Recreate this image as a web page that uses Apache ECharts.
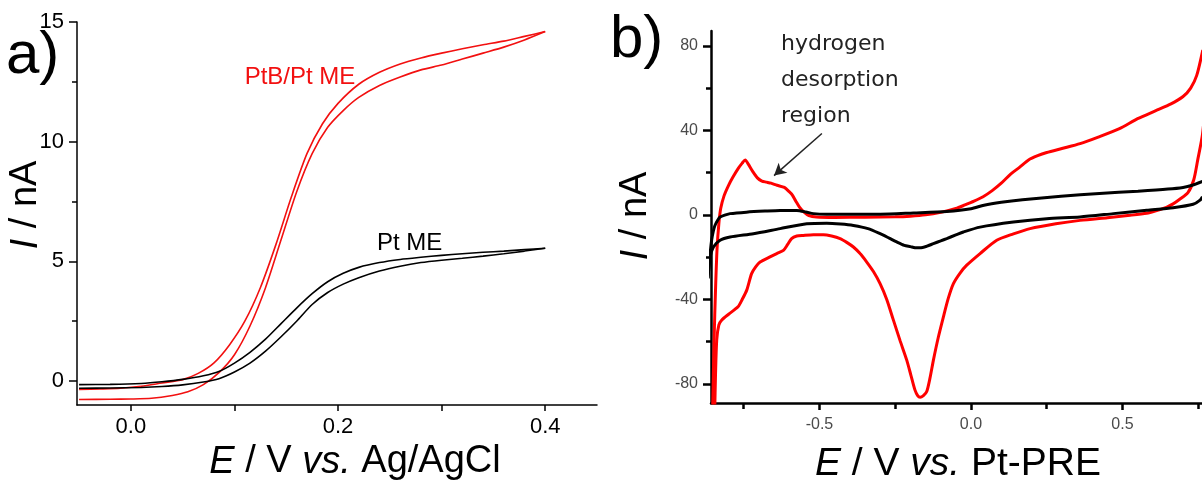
<!DOCTYPE html>
<html>
<head>
<meta charset="utf-8">
<script src="https://cdn.jsdelivr.net/npm/echarts@6/dist/echarts.min.js"></script>
<style>
html,body{margin:0;padding:0;background:#fff;}
#c{width:1202px;height:484px;}
</style>
</head>
<body>
<div id="c"></div>
<script>
// ---------- Panel a data: E (V vs Ag/AgCl), I (nA) ----------
const ptbUpper = [[-0.05,-0.35],[-0.03,-0.33],[-0.01,-0.3],[0.01,-0.22],[0.03,-0.08],[0.05,0.06],[0.065,0.32],[0.08,0.75],[0.095,1.5],[0.11,2.5],[0.125,3.9],[0.14,5.7],[0.155,7.7],[0.17,9.5],[0.185,10.75],[0.2,11.6],[0.22,12.4],[0.24,12.9],[0.26,13.25],[0.28,13.5],[0.3,13.7],[0.32,13.88],[0.34,14.05],[0.36,14.2],[0.38,14.4],[0.4,14.6]];
const ptbLower = [[-0.05,-0.77],[-0.02,-0.76],[0.0,-0.75],[0.02,-0.72],[0.04,-0.6],[0.055,-0.45],[0.07,-0.15],[0.085,0.35],[0.1,1.1],[0.115,2.3],[0.13,3.9],[0.145,5.9],[0.16,7.9],[0.175,9.5],[0.19,10.6],[0.205,11.3],[0.22,11.85],[0.24,12.35],[0.26,12.7],[0.28,13.0],[0.3,13.2],[0.32,13.45],[0.34,13.7],[0.36,13.95],[0.38,14.25],[0.4,14.6]];
const ptUpper = [[-0.05,-0.15],[-0.02,-0.14],[0.01,-0.1],[0.03,-0.03],[0.05,0.07],[0.07,0.22],[0.085,0.4],[0.1,0.75],[0.115,1.2],[0.13,1.75],[0.145,2.4],[0.16,3.05],[0.175,3.65],[0.19,4.15],[0.205,4.5],[0.22,4.75],[0.24,4.95],[0.26,5.08],[0.28,5.17],[0.3,5.25],[0.32,5.32],[0.34,5.38],[0.36,5.43],[0.38,5.49],[0.4,5.55]];
const ptLower = [[-0.05,-0.3],[-0.02,-0.29],[0.01,-0.27],[0.03,-0.23],[0.05,-0.16],[0.07,-0.04],[0.085,0.1],[0.1,0.38],[0.115,0.75],[0.13,1.25],[0.145,1.85],[0.16,2.5],[0.175,3.2],[0.19,3.7],[0.205,4.05],[0.22,4.32],[0.24,4.6],[0.26,4.8],[0.28,4.95],[0.3,5.05],[0.32,5.13],[0.34,5.22],[0.36,5.32],[0.38,5.43],[0.4,5.55]];

// ---------- Panel b data: E (V vs Pt-PRE), I (nA) ----------
const ptbAnodic = [[-0.853,-95],[-0.848,-60],[-0.843,-35],[-0.838,-16],[-0.832,-4],[-0.826,3],[-0.815,9],[-0.8,14],[-0.785,18],[-0.768,22],[-0.755,24.5],[-0.745,26],[-0.735,24],[-0.72,20.5],[-0.705,17.5],[-0.69,16],[-0.675,15.5],[-0.66,15],[-0.64,14],[-0.616,13],[-0.6,11],[-0.59,9.5],[-0.578,6.5],[-0.566,3.7],[-0.55,1.2],[-0.535,-0.3],[-0.51,-1],[-0.45,-1.2],[-0.35,-1.1],[-0.25,-0.9],[-0.2,-0.6],[-0.15,0],[-0.1,1.2],[-0.05,3],[-0.02,4.7],[0.01,6.5],[0.04,8.6],[0.07,11.5],[0.1,15],[0.13,19.2],[0.16,22.5],[0.19,26],[0.22,28],[0.25,29.5],[0.3,31.4],[0.36,33.7],[0.42,36.8],[0.49,40.8],[0.55,45.5],[0.61,49.3],[0.66,52.5],[0.7,56],[0.725,60],[0.745,66],[0.765,78]];
const ptbCathodic = [[-0.846,-95],[-0.843,-75],[-0.839,-59],[-0.832,-52],[-0.823,-49.8],[-0.8,-47],[-0.769,-43.5],[-0.755,-40],[-0.74,-35.6],[-0.724,-27.8],[-0.71,-24.5],[-0.696,-22.3],[-0.665,-20],[-0.641,-18.3],[-0.619,-16.8],[-0.605,-14],[-0.592,-11.2],[-0.575,-10],[-0.553,-9.7],[-0.52,-9.4],[-0.487,-9.4],[-0.46,-10],[-0.432,-11.2],[-0.41,-13],[-0.388,-15.2],[-0.366,-18.3],[-0.344,-22.3],[-0.322,-26.8],[-0.3,-32.5],[-0.278,-40],[-0.256,-49.8],[-0.234,-59.5],[-0.212,-68.7],[-0.198,-76],[-0.185,-82.8],[-0.176,-85.5],[-0.168,-86.3],[-0.157,-85.5],[-0.146,-83.6],[-0.135,-77],[-0.124,-68.7],[-0.108,-58],[-0.091,-48.2],[-0.075,-39.5],[-0.058,-32.5],[-0.036,-27.5],[-0.014,-23.8],[0.03,-18.3],[0.085,-12],[0.14,-9],[0.195,-6.5],[0.28,-4.2],[0.36,-2.6],[0.45,-1.3],[0.525,-0.2],[0.58,0.8],[0.613,2.1],[0.645,3.6],[0.667,5.2],[0.69,7.5],[0.716,10.5],[0.735,16.5],[0.748,25.8],[0.764,38],[0.775,55]];
const ptAnodic = [[-0.868,-30],[-0.862,-20],[-0.856,-12],[-0.85,-7.5],[-0.845,-5],[-0.836,-2.5],[-0.828,-1],[-0.81,0],[-0.795,0.6],[-0.741,1.3],[-0.68,1.8],[-0.63,2.1],[-0.575,2.1],[-0.545,1.4],[-0.52,0.6],[-0.476,0.3],[-0.4,0.3],[-0.3,0.3],[-0.19,0.9],[-0.08,1.6],[0.0,2.9],[0.043,4.6],[0.1,6],[0.17,7.2],[0.297,8.8],[0.424,10.1],[0.551,11.2],[0.65,12.2],[0.7,13],[0.73,14],[0.764,15.8]];
const ptCathodic = [[-0.868,-30],[-0.861,-20],[-0.85,-15.2],[-0.828,-12],[-0.795,-10.5],[-0.718,-8.9],[-0.63,-6.5],[-0.542,-4.2],[-0.476,-3.9],[-0.43,-4.3],[-0.388,-5],[-0.34,-6.5],[-0.3,-8.9],[-0.27,-11],[-0.245,-12.8],[-0.22,-14.4],[-0.2,-15],[-0.185,-15.5],[-0.168,-15.6],[-0.145,-14.8],[-0.124,-13.6],[-0.1,-12.3],[-0.08,-11.2],[-0.05,-9.5],[-0.025,-8.1],[0.03,-5.8],[0.14,-3.4],[0.25,-1.8],[0.36,-1],[0.47,0.6],[0.58,2.2],[0.667,3.4],[0.733,5],[0.756,7],[0.764,8.6]];

// ---------- Tick values ----------
const aTicksE = [0, 0.2, 0.4];
const aMinorE = [0.1, 0.3];
const aTicksI = [0, 5, 10, 15];
const aMinorI = [2.5, 7.5, 12.5];
const bTicksE = [-0.5, 0, 0.5];
const bMinorE = [-0.75, -0.25, 0.25, 0.75];
const bTicksI = [-80, -40, 0, 40, 80];
const bMinorI = [-60, -20, 20, 60];

// ---------- Texts ----------
const annotationLines = ['hydrogen', 'desorption', 'region'];
const labelPtB = 'PtB/Pt ME';
const labelPt = 'Pt ME';

const ARIAL = '"Liberation Sans", Arial, sans-serif';
const RED = '#f21010';

const chart = echarts.init(document.getElementById('c'));

function mainX(grid, min, max, ticks, lineW, labelStyle, tickLen, margin) {
  return {type:'value', gridIndex:grid, min:min, max:max, position:'bottom',
    axisLine:{show:true, onZero:false, lineStyle:{color:'#000', width:lineW}},
    axisTick:{show:true, inside:false, length:tickLen, customValues:ticks, lineStyle:{color:'#000', width:lineW}},
    axisLabel:Object.assign({show:true, customValues:ticks, margin:margin, formatter:v=>Number(v).toFixed(1)}, labelStyle),
    splitLine:{show:false}};
}
function minorX(grid, min, max, ticks, lineW, len) {
  return {type:'value', gridIndex:grid, min:min, max:max, position:'bottom',
    axisLine:{show:false, onZero:false}, axisLabel:{show:false},
    axisTick:{show:true, inside:false, length:len, customValues:ticks, lineStyle:{color:'#000', width:lineW}},
    splitLine:{show:false}};
}
function mainY(grid, min, max, ticks, lineW, labelStyle, tickLen, margin) {
  return {type:'value', gridIndex:grid, min:min, max:max, position:'left',
    axisLine:{show:true, onZero:false, lineStyle:{color:'#000', width:lineW}},
    axisTick:{show:true, inside:false, length:tickLen, customValues:ticks, lineStyle:{color:'#000', width:lineW}},
    axisLabel:Object.assign({show:true, customValues:ticks, margin:margin, formatter:v=>String(Math.round(v))}, labelStyle),
    splitLine:{show:false}};
}
function minorY(grid, min, max, ticks, lineW, len) {
  return {type:'value', gridIndex:grid, min:min, max:max, position:'left',
    axisLine:{show:false, onZero:false}, axisLabel:{show:false},
    axisTick:{show:true, inside:false, length:len, customValues:ticks, lineStyle:{color:'#000', width:lineW}},
    splitLine:{show:false}};
}

const aLabel = {color:'#000', fontSize:22, fontFamily:ARIAL};
const bLabel = {color:'#4a4a4a', fontSize:16, fontFamily:ARIAL};

function line(data, xi, yi, color, width, extra) {
  return Object.assign({type:'line', xAxisIndex:xi, yAxisIndex:yi, data:data, showSymbol:false, symbol:'none',
    smooth:0.25, clip:true, silent:true, lineStyle:{color:color, width:width}, itemStyle:{color:color}}, extra||{});
}

const titleRich = (size) => ({
  i:{fontStyle:'italic', fontSize:size, fontFamily:ARIAL, fill:'#000'},
  n:{fontSize:size, fontFamily:ARIAL, fill:'#000'}
});

const option = {
  animation:false,
  backgroundColor:'#fff',
  grid:[
    {left:77, top:22, width:520, height:383},
    {left:711, top:31, width:491, height:372}
  ],
  xAxis:[
    mainX(0, -0.052, 0.45, aTicksE, 1.5, aLabel, 6, 11),
    minorX(0, -0.052, 0.45, aMinorE, 1.5, 6),
    mainX(1, -0.858, 0.7624, bTicksE, 2.5, bLabel, 7, 14),
    minorX(1, -0.858, 0.7624, bMinorE, 2.5, 6)
  ],
  yAxis:[
    mainY(0, -1, 15, aTicksI, 1.5, aLabel, 8, 13),
    minorY(0, -1, 15, aMinorI, 1.5, 5),
    mainY(1, -89, 87, bTicksI, 2.5, bLabel, 8, 13),
    minorY(1, -89, 87, bMinorI, 2.5, 5)
  ],
  series:[
    line(ptbUpper, 0, 0, RED, 1.6),
    line(ptbLower, 0, 0, RED, 1.6),
    line(ptUpper, 0, 0, '#000', 1.6),
    line(ptLower, 0, 0, '#000', 1.6),
    line(ptbAnodic, 2, 2, '#ff0000', 3, {
      markLine:{silent:true, symbol:['none','arrow'], symbolSize:[10,12], label:{show:false},
        lineStyle:{color:'#222', width:1.5, type:'solid'},
        data:[[{coord:[-0.492,38.5]},{coord:[-0.650,18.6]}]]}
    }),
    line(ptbCathodic, 2, 2, '#ff0000', 3),
    line(ptAnodic, 2, 2, '#000', 3),
    line(ptCathodic, 2, 2, '#000', 3)
  ],
  graphic:[
    {type:'text', x:6, y:86, style:{text:'a)', font:'60px "Liberation Sans", Arial', fill:'#000', verticalAlign:'bottom'}},
    {type:'text', x:610, y:70, style:{text:'b)', font:'60px "Liberation Sans", Arial', fill:'#000', verticalAlign:'bottom'}},
    {type:'text', x:26, y:205, rotation:Math.PI/2, style:{text:'{i|I}{n| / nA}', rich:titleRich(38), align:'center', verticalAlign:'middle'}},
    {type:'text', x:636, y:216, rotation:Math.PI/2, style:{text:'{i|I}{n| / nA}', rich:titleRich(38), align:'center', verticalAlign:'middle'}},
    {type:'text', x:355, y:462, style:{text:'{i|E}{n| / V }{i|vs.}{n| Ag/AgCl}', rich:titleRich(38), align:'center', verticalAlign:'middle'}},
    {type:'text', x:958, y:464, style:{text:'{i|E}{n| / V }{i|vs.}{n| Pt-PRE}', rich:titleRich(39), align:'center', verticalAlign:'middle'}},
    {type:'text', x:300, y:77, style:{text:labelPtB, font:'24px "Liberation Sans", Arial', fill:RED, align:'center', verticalAlign:'middle'}},
    {type:'text', x:377, y:243, style:{text:labelPt, font:'24px "Liberation Sans", Arial', fill:'#000', align:'left', verticalAlign:'middle'}},
    {type:'text', x:781, y:44, style:{text:annotationLines[0], font:'22px "DejaVu Sans"', fill:'#222', align:'left', verticalAlign:'middle'}},
    {type:'text', x:781, y:80, style:{text:annotationLines[1], font:'22px "DejaVu Sans"', fill:'#222', align:'left', verticalAlign:'middle'}},
    {type:'text', x:781, y:116, style:{text:annotationLines[2], font:'22px "DejaVu Sans"', fill:'#222', align:'left', verticalAlign:'middle'}}
  ]
};
chart.setOption(option);
</script>
</body>
</html>
